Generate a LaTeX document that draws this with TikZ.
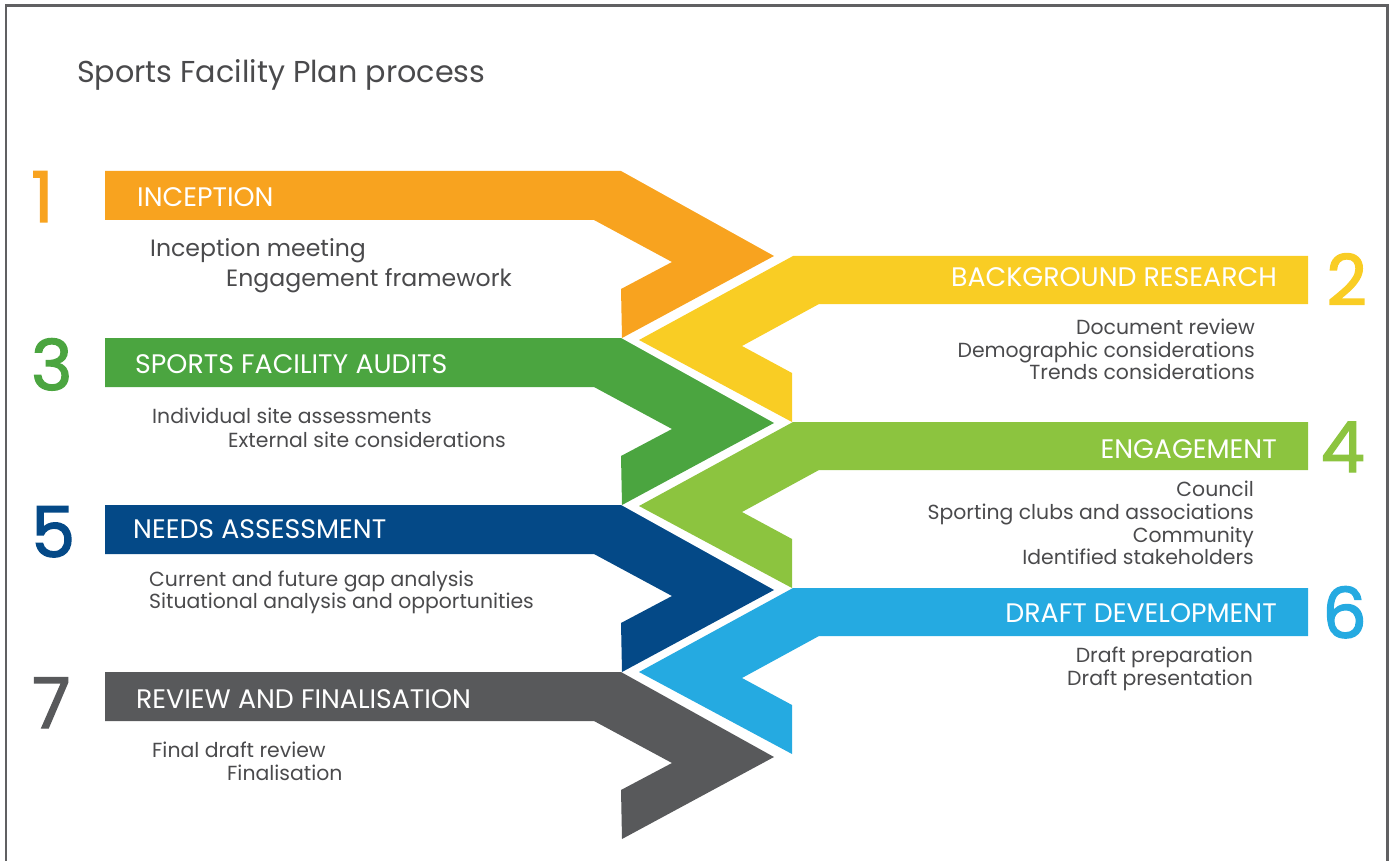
\documentclass[tikz,border=0pt]{standalone}
\usepackage{fontspec}
\setmainfont{Poppins}
\newfontfamily\numfont[FakeBold=2]{Poppins}
\definecolor{cone}{HTML}{F8A31F}
\definecolor{ctwo}{HTML}{F9CD24}
\definecolor{cthree}{HTML}{4BA540}
\definecolor{cfour}{HTML}{8CC43F}
\definecolor{cfive}{HTML}{044987}
\definecolor{csix}{HTML}{25AAE1}
\definecolor{cseven}{HTML}{58595B}
\definecolor{txtgray}{HTML}{4A4A4C}
\definecolor{framegray}{HTML}{606062}
\newcommand\lchev[2]{\fill[#1] (105,#2) -- (621,#2) -- (774,{#2+85}) -- (622,{#2+167}) -- (621,{#2+118}) -- (672,{#2+91}) -- (594,{#2+49}) -- (105,{#2+49}) -- cycle;}
\newcommand\rchev[2]{\fill[#1] (1308,#2) -- (793,#2) -- (639,{#2+84}) -- (792,{#2+166}) -- (792,{#2+117}) -- (742,{#2+90}) -- (819,{#2+48}) -- (1308,{#2+48}) -- cycle;}
\begin{document}
\begin{tikzpicture}[x=1pt,y=-1pt,
  item/.style={inner sep=0, text=txtgray, font=\fontsize{20.4}{24}\selectfont},
  itembig/.style={inner sep=0, text=txtgray, font=\fontsize{23.6}{28}\selectfont},
  barlabel/.style={inner sep=0, text=white, font=\fontsize{26.8}{30}\selectfont},
  num/.style={inner sep=0, font=\numfont\fontsize{70}{80}\selectfont}]
\useasboundingbox (0,0) rectangle (1395,861);
\draw[line width=2.3pt, framegray] (6,875) -- (6,5.5) -- (1387.5,5.5) -- (1387.5,875);
\node[inner sep=0, anchor=base west, text=txtgray, font=\fontsize{30.2}{36}\selectfont] (title) at (77,83) {Sports Facility Plan process};
% chevrons
\lchev{cone}{171}
\lchev{cthree}{338}
\lchev{cfive}{505}
\lchev{cseven}{672}
\rchev{ctwo}{256}
\rchev{cfour}{422}
\rchev{csix}{588}
% numbers
\node[num, text=cone, anchor=base west] (n1) at (31,222) {1};
\node[num, text=ctwo, anchor=base east] (n2) at (1367,305) {2};
\node[num, text=cthree, anchor=base west] (n3) at (31,390) {3};
\node[num, text=cfour, anchor=base east] (n4) at (1365,472) {4};
\node[num, text=cfive, anchor=base west] (n5) at (31,557) {5};
\node[num, text=csix, anchor=base east] (n6) at (1367,638) {6};
\node[num, text=cseven, anchor=base west] (n7) at (32,728) {7};
% bar labels
\node[barlabel, anchor=base west] (l1) at (137,207) {INCEPTION};
\node[barlabel, anchor=base east] (l2) at (1277,287) {BACKGROUND RESEARCH};
\node[barlabel, anchor=base west] (l3) at (135,373) {SPORTS FACILITY AUDITS};
\node[barlabel, anchor=base east] (l4) at (1277,458) {ENGAGEMENT};
\node[barlabel, anchor=base west] (l5) at (133,538) {NEEDS ASSESSMENT};
\node[barlabel, anchor=base east] (l6) at (1277,622) {DRAFT DEVELOPMENT};
\node[barlabel, anchor=base west] (l7) at (136,708) {REVIEW AND FINALISATION};
% items
\node[itembig, anchor=base west] (i1a) at (150,257) {Inception meeting};
\node[itembig, anchor=base west] (i1b) at (226,286) {Engagement framework};
\node[item, anchor=base east] (i2a) at (1255,334) {Document review};
\node[item, anchor=base east] (i2b) at (1255,357) {Demographic considerations};
\node[item, anchor=base east] (i2c) at (1255,379) {Trends considerations};
\node[item, anchor=base west] (i3a) at (152,423) {Individual site assessments};
\node[item, anchor=base west] (i3b) at (228,447) {External site considerations};
\node[item, anchor=base east] (i4a) at (1254,496) {Council};
\node[item, anchor=base east] (i4b) at (1254,519) {Sporting clubs and associations};
\node[item, anchor=base east] (i4c) at (1254,542) {Community};
\node[item, anchor=base east] (i4d) at (1254,564) {Identified stakeholders};
\node[item, anchor=base west] (i5a) at (149,586) {Current and future gap analysis};
\node[item, anchor=base west] (i5b) at (149,608) {Situational analysis and opportunities};
\node[item, anchor=base east] (i6a) at (1253,662) {Draft preparation};
\node[item, anchor=base east] (i6b) at (1253,685) {Draft presentation};
\node[item, anchor=base west] (i7a) at (152,757) {Final draft review};
\node[item, anchor=base west] (i7b) at (227,780) {Finalisation};
\end{tikzpicture}
\end{document}
